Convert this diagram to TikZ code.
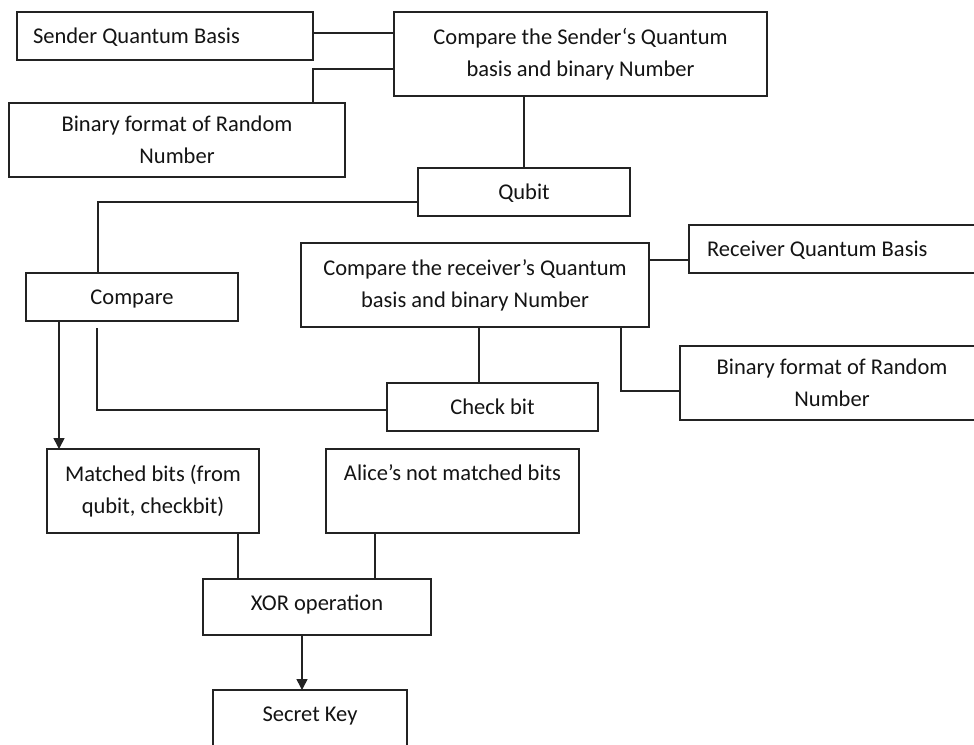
\documentclass[tikz,border=0pt]{standalone}
\usepackage{fontspec}
\setmainfont{Carlito}
\usetikzlibrary{arrows.meta}
\definecolor{lc}{RGB}{35,35,35}
\definecolor{tc}{RGB}{20,20,20}
\newcommand{\boxfont}{\fontsize{22.5}{32}\selectfont}
\tikzset{
  box/.style={draw=lc, line width=1.6pt, inner sep=0pt, outer sep=0pt, align=center, text=tc, font=\boxfont},
  conn/.style={draw=lc, line width=1.6pt},
  arr/.style={conn, -{Triangle[length=11pt,width=11pt]}},
  one/.style={text height=14pt, text depth=0pt},
}
\begin{document}
\begin{tikzpicture}[x=1pt,y=-1pt]
\path[use as bounding box] (0,0) rectangle (974,744);
\clip (0,0) rectangle (974,744);
\fill[white] (0,0) rectangle (974,744);
% boxes
\node[box, one, minimum width=296, minimum height=48, text width=264, align=flush left] (sqb) at (165,36) {Sender Quantum Basis};
\node[box, minimum width=373, minimum height=84] (csend) at (580.5,54) {Compare the Sender‘s Quantum\\basis and binary Number};
\node[box, minimum width=336, minimum height=74] (binL) at (177,140) {Binary format of Random\\Number};
\node[box, one, minimum width=212, minimum height=48] (qubit) at (524,192) {Qubit};
\node[box, one, minimum width=212, minimum height=48] (cmp) at (132,297) {Compare};
\node[box, minimum width=348, minimum height=84] (crec) at (475,285) {Compare the receiver’s Quantum\\basis and binary Number};
\node[box, one, minimum width=296, minimum height=48, text width=260, align=flush left] (rqb) at (837,249) {Receiver Quantum Basis};
\node[box, minimum width=304, minimum height=74] (binR) at (832,383) {Binary format of Random\\Number};
\node[box, one, minimum width=211, minimum height=48] (check) at (492.5,407) {Check bit};
\node[box, minimum width=212, minimum height=84] (match) at (153,491) {Matched bits (from\\qubit, checkbit)};
\node[box, text height=14pt, text depth=36pt, minimum width=253, minimum height=84] (alice) at (452.5,491) {Alice’s not matched bits};
\node[box, text height=14pt, text depth=8pt, minimum width=228, minimum height=56] (xor) at (317,607) {XOR operation};
\node[box, text height=14pt, text depth=8pt, minimum width=194, minimum height=56] (skey) at (310,718) {Secret Key};
% connectors
\draw[conn] (sqb.east |- 0,33) -- (csend.west |- 0,33);
\draw[conn] (csend.west |- 0,69) -| (313,0 |- binL.north);
\draw[conn] (qubit.north |- csend.south) -- (qubit.north);
\draw[conn] (qubit.west |- 0,202) -| (98,0 |- cmp.north);
\draw[arr] (59,0 |- cmp.south) -- (59,0 |- match.north);
\coordinate (cfree) at (97,328);
\draw[conn] (cfree) |- (check.west |- 0,410);
\draw[conn] (479,0 |- crec.south) -- (479,0 |- check.north);
\draw[conn] (crec.east |- 0,260) -- (rqb.west |- 0,260);
\draw[conn] (621,0 |- crec.south) |- (binR.west |- 0,391);
\draw[conn] (238,0 |- match.south) -- (238,0 |- xor.north);
\draw[conn] (375,0 |- alice.south) -- (375,0 |- xor.north);
\draw[arr] (302,0 |- xor.south) -- (302,0 |- skey.north);
\end{tikzpicture}
\end{document}
